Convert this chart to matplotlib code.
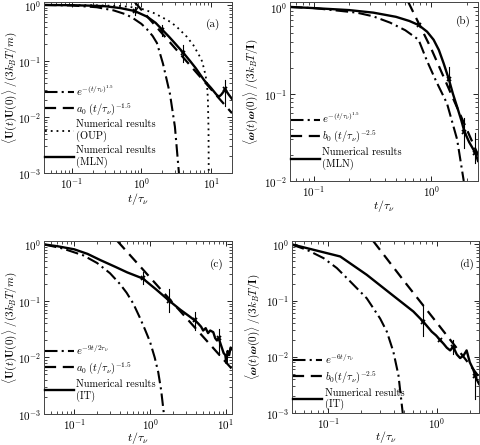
import matplotlib
matplotlib.use("Agg")
import matplotlib.pyplot as plt
from matplotlib.ticker import LogLocator, NullFormatter

plt.rcParams.update({
    "font.family": "serif",
    "font.serif": ["cmr10", "DejaVu Serif"],
    "mathtext.fontset": "cm",
    "axes.unicode_minus": False,
    "axes.formatter.use_mathtext": True,
    "font.size": 8,
})

# ---------------- panel (a) ----------------
ta_exp = [0.04, 0.1, 0.23, 0.4, 0.6, 0.76, 1.0, 1.2, 1.45, 1.67, 2.04, 2.57, 3.03, 3.46]
va_exp = [1.0, 0.98, 0.91, 0.80, 0.68, 0.58, 0.46, 0.37, 0.28, 0.21, 0.09, 0.026, 0.0067, 0.001]
ta_pow = [0.8, 2.0, 5.0, 10.0, 20.0]
va_pow = [1.13, 0.307, 0.0838, 0.0313, 0.0117]
ta_oup = [0.04, 0.2, 0.5, 0.8, 1.05, 1.5, 2.0, 2.6, 3.2, 4.5, 5.6, 6.9, 7.4, 8.0, 8.7, 9.0, 9.2, 9.3]
va_oup = [1.0, 0.99, 0.96, 0.9, 0.84, 0.72, 0.6, 0.5, 0.41, 0.27, 0.19, 0.12, 0.1, 0.07, 0.042, 0.022, 0.006, 0.0005]
ta_mln = [0.04, 0.1, 0.2, 0.3, 0.5, 0.8, 1.2, 1.6, 2.0, 2.5, 3.0, 4.0, 5.0, 6.0, 8.0, 10.0, 12.0, 13.0, 14.0, 16.0, 18.0, 20.0]
va_mln = [1.0, 0.99, 0.97, 0.95, 0.88, 0.78, 0.62, 0.48, 0.36, 0.27, 0.21, 0.14, 0.10, 0.075, 0.045, 0.033, 0.025, 0.023, 0.025, 0.031, 0.025, 0.021]
ta_err = [0.8, 2.0, 4.0, 16.0]
va_err = [0.78, 0.36, 0.14, 0.031]
va_lo = [0.66, 0.28, 0.096, 0.016]
va_hi = [0.92, 0.44, 0.19, 0.046]

# ---------------- panel (b) ----------------
tb_exp = [0.0625, 0.1, 0.232, 0.32, 0.446, 0.6, 0.779, 0.919, 1.1, 1.36, 1.66, 1.89]
vb_exp = [1.0, 0.97, 0.86, 0.78, 0.66, 0.54, 0.42, 0.24, 0.14, 0.078, 0.030, 0.01]
tb_pow = [0.636, 1.0, 1.6, 2.5]
vb_pow = [1.14, 0.33, 0.078, 0.02]
tb_mln = [0.0625, 0.1, 0.2, 0.321, 0.5, 0.65, 0.779, 0.92, 1.046, 1.16, 1.274, 1.406, 1.53, 1.66, 1.8, 1.915, 2.1, 2.376, 2.5]
vb_mln = [1.0, 0.97, 0.92, 0.86, 0.77, 0.69, 0.62, 0.52, 0.42, 0.32, 0.225, 0.15, 0.1, 0.071, 0.05, 0.037, 0.028, 0.021, 0.017]
tb_err = [0.779, 1.406, 1.915, 2.376]
vb_err = [0.62, 0.15, 0.037, 0.021]
vb_lo = [0.6, 0.11, 0.024, 0.016]
vb_hi = [0.64, 0.205, 0.053, 0.036]

# ---------------- panel (c) ----------------
tc_exp = [0.04, 0.07, 0.132, 0.2, 0.296, 0.4, 0.49, 0.6, 0.736, 0.85, 0.997, 1.15, 1.28, 1.4, 1.52]
vc_exp = [1.0, 0.85, 0.64, 0.47, 0.31, 0.2, 0.14, 0.09, 0.05, 0.032, 0.019, 0.01, 0.0055, 0.0026, 0.001]
tc_pow = [0.37, 1.0, 3.0, 12.0]
vc_pow = [1.15, 0.26, 0.05, 0.00625]
tc_it = [0.04, 0.06, 0.1, 0.15, 0.22, 0.35, 0.5, 0.8, 1.2, 1.8, 2.5, 3.2, 3.9, 4.3, 4.7, 5.0, 5.4, 5.8, 6.2, 6.8,
         7.2, 7.6, 8.0, 8.3, 8.8, 9.3, 9.8, 10.1, 10.5, 11.0, 11.5, 12.0]
vc_it = [1.0, 0.93, 0.82, 0.68, 0.53, 0.40, 0.32, 0.25, 0.16, 0.10, 0.07, 0.055, 0.045, 0.04, 0.035, 0.03, 0.033, 0.027,
         0.030, 0.028, 0.022, 0.02, 0.022, 0.019, 0.015, 0.012, 0.011, 0.008, 0.013, 0.011, 0.015, 0.014]
tc_err = [0.8, 1.8, 3.9, 8.0]
vc_err = [0.25, 0.10, 0.046, 0.022]
vc_lo = [0.2, 0.065, 0.031, 0.011]
vc_hi = [0.33, 0.16, 0.065, 0.032]

# ---------------- panel (d) ----------------
td_exp = [0.0465, 0.0638, 0.0906, 0.12, 0.159, 0.226, 0.3, 0.346, 0.397, 0.442, 0.484]
vd_exp = [0.99, 0.80, 0.57, 0.38, 0.22, 0.11, 0.048, 0.028, 0.0123, 0.0047, 0.001]
td_pow = [0.259, 0.5, 1.0, 2.0, 2.43]
vd_pow = [1.15, 0.22, 0.04, 0.0072, 0.0044]
td_it = [0.0465, 0.129, 0.226, 0.371, 0.606, 0.749, 0.894, 0.98, 1.065, 1.15, 1.23, 1.32, 1.41, 1.52, 1.63, 1.75, 1.87,
         2.0, 2.15, 2.28, 2.43]
vd_it = [1.0, 0.61, 0.288, 0.135, 0.064, 0.042, 0.028, 0.024, 0.02, 0.017, 0.0145, 0.013, 0.015, 0.011, 0.0095, 0.0105,
         0.013, 0.008, 0.006, 0.0042, 0.0033]
td_err = [0.749, 1.065, 1.41, 2.23]
vd_err = [0.042, 0.02, 0.015, 0.0045]
vd_lo = [0.023, 0.019, 0.011, 0.0018]
vd_hi = [0.085, 0.021, 0.02, 0.005]

XLABEL = r"$t/\tau_\nu$"
YLAB_U = r"$\langle\mathbf{U}(t)\mathbf{U}(0)\rangle\ /(3k_BT/m)$"
YLAB_W = r"$\langle\boldsymbol{\omega}(t)\boldsymbol{\omega}(0)\rangle\ /(3k_BT/\mathbf{I})$"

DASHDOT = dict(color="black", lw=1.5, dashes=(6, 2, 1, 2))
DASHED = dict(color="black", lw=1.6, dashes=(5, 3))
DOTTED = dict(color="black", lw=1.3, dashes=(1, 2.2))
SOLID = dict(color="black", lw=1.7)

fig = plt.figure(figsize=(4.81, 4.45), dpi=100)
W, H = 481.0, 445.0


def make_ax(l, r, t, b):
    return fig.add_axes([l / W, 1 - b / H, (r - l) / W, (b - t) / H])


def style(ax, xlim, ylim, ylabel, tag, tagpos, ylab_x, xlab_y):
    ax.set_xscale("log")
    ax.set_yscale("log")
    ax.set_xlim(*xlim)
    ax.set_ylim(*ylim)
    ax.set_xlabel(XLABEL, fontsize=8.5)
    ax.set_ylabel(ylabel, fontsize=8)
    ax.yaxis.set_label_coords(ylab_x, 0.5)
    ax.xaxis.set_label_coords(0.5, xlab_y)
    ax.tick_params(which="both", direction="in", top=True, right=True, labelsize=8, pad=2)
    ax.tick_params(which="major", length=3.5, width=0.6)
    ax.tick_params(which="minor", length=2, width=0.5)
    ax.xaxis.set_minor_locator(LogLocator(base=10, subs=range(2, 10), numticks=20))
    ax.yaxis.set_minor_locator(LogLocator(base=10, subs=range(2, 10), numticks=20))
    ax.xaxis.set_minor_formatter(NullFormatter())
    ax.yaxis.set_minor_formatter(NullFormatter())
    for sp in ax.spines.values():
        sp.set_linewidth(0.7)
        sp.set_color("#444444")
    ax.text(tagpos[0], tagpos[1], tag, transform=ax.transAxes, fontsize=8, ha="center", va="center")


def errs(ax, t, v, lo, hi):
    for ti, l, h in zip(t, lo, hi):
        ax.plot([ti, ti], [l, h], color="black", lw=0.8)
    ax.plot(t, v, ls="none", marker="x", ms=3.5, mew=1.3, color="black")


LEG = dict(loc="upper left", frameon=False, fontsize=7.5, handlelength=2.8,
           handletextpad=0.2, labelspacing=0.3, borderpad=0.1, borderaxespad=0.2)

# (a)
axa = make_ax(44, 232, 2, 173)
axa.plot(ta_exp, va_exp, label=r"$e^{-(t/\tau_\nu)^{1.5}}$", **DASHDOT)
axa.plot(ta_pow, va_pow, label=r"$a_0\ (t/\tau_\nu)^{-1.5}$", **DASHED)
axa.plot(ta_oup, va_oup, label="Numerical results\n(OUP)", **DOTTED)
axa.plot(ta_mln, va_mln, label="Numerical results\n(MLN)", **SOLID)
errs(axa, ta_err, va_err, va_lo, va_hi)
style(axa, (0.04, 20), (1e-3, 1.13), YLAB_U, "(a)", (0.9, 0.87), -0.135, -0.108)
axa.legend(bbox_to_anchor=(-0.01, 0.545), **LEG)

# (b)
axb = make_ax(290, 478, 2, 181)
axb.plot(tb_exp, vb_exp, label=r"$e^{-(t/\tau_\nu)^{1.5}}$", **DASHDOT)
axb.plot(tb_pow, vb_pow, label=r"$b_0\ (t/\tau_\nu)^{-2.5}$", **DASHED)
axb.plot(tb_mln, vb_mln, label="Numerical results\n(MLN)", **SOLID)
errs(axb, tb_err, vb_err, vb_lo, vb_hi)
style(axb, (0.0625, 2.5), (1e-2, 1.14), YLAB_W, "(b)", (0.92, 0.89), -0.16, -0.095)
axb.legend(bbox_to_anchor=(-0.01, 0.41), **LEG)

# (c)
axc = make_ax(44, 232, 241, 414)
axc.plot(tc_exp, vc_exp, label=r"$e^{-9t/2\tau_\nu}$", **DASHDOT)
axc.plot(tc_pow, vc_pow, label=r"$a_0\ (t/\tau_\nu)^{-1.5}$", **DASHED)
axc.plot(tc_it, vc_it, label="Numerical results\n(IT)", **SOLID)
errs(axc, tc_err, vc_err, vc_lo, vc_hi)
style(axc, (0.04, 12), (1e-3, 1.15), YLAB_U, "(c)", (0.92, 0.867), -0.135, -0.094)
axc.legend(bbox_to_anchor=(-0.01, 0.43), **LEG)

# (d)
axd = make_ax(292, 479, 241, 413)
axd.plot(td_exp, vd_exp, label=r"$e^{-6t/\tau_\nu}$", **DASHDOT)
axd.plot(td_pow, vd_pow, label=r"$b_0(t/\tau_\nu)^{-2.5}$", **DASHED)
axd.plot(td_it, vd_it, label="Numerical results\n(IT)", **SOLID)
errs(axd, td_err, vd_err, vd_lo, vd_hi)
style(axd, (0.0465, 2.43), (1e-3, 1.15), YLAB_W, "(d)", (0.94, 0.866), -0.16, -0.094)
axd.legend(bbox_to_anchor=(-0.01, 0.375), **LEG)

fig.savefig("out.png", dpi=100)
